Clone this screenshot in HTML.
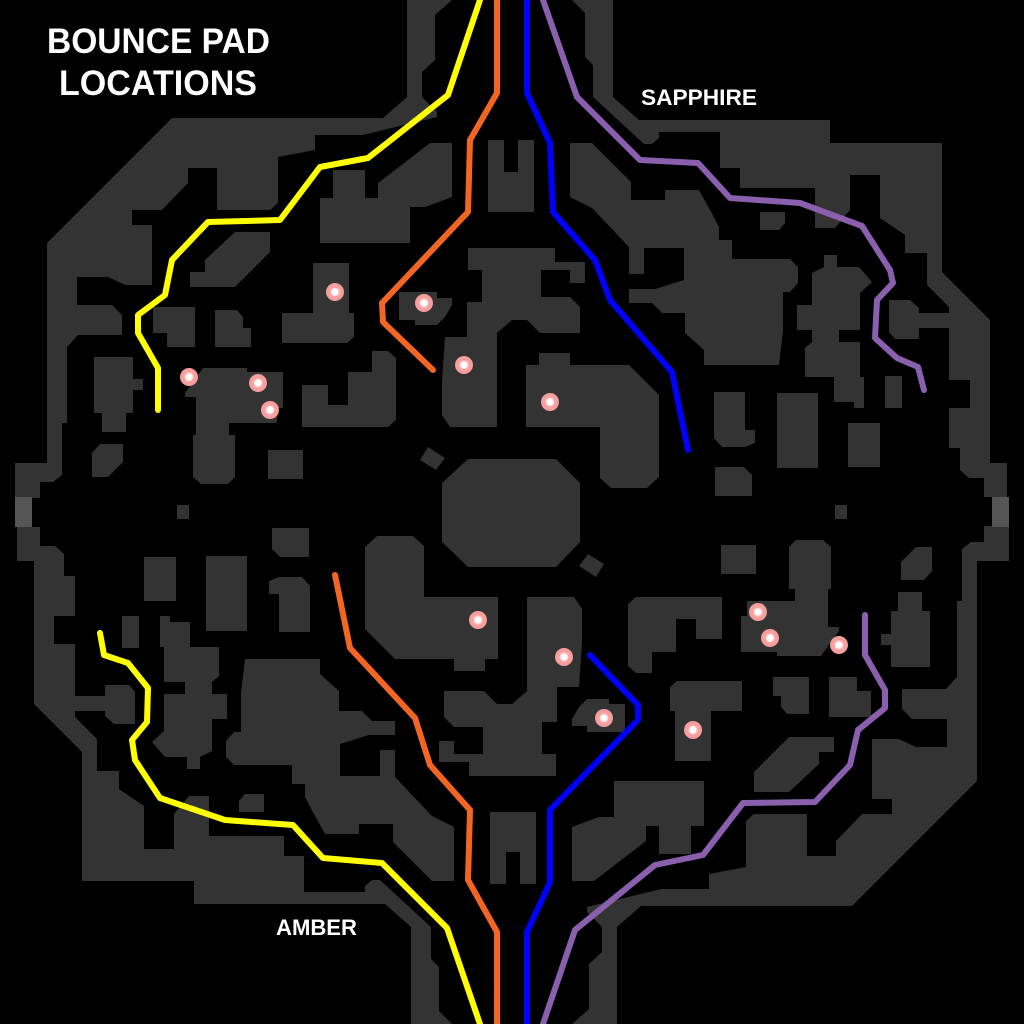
<!DOCTYPE html>
<html><head><meta charset="utf-8"><style>html,body{margin:0;padding:0;background:#000}svg{display:block}</style></head>
<body>
<svg width="1024" height="1024" viewBox="0 0 1024 1024" xmlns="http://www.w3.org/2000/svg">
<defs>
<radialGradient id="dg"><stop offset="0" stop-color="#fff"/><stop offset="0.3" stop-color="#fff"/><stop offset="0.55" stop-color="#f7a3a3"/><stop offset="1" stop-color="#f59a9a"/></radialGradient>
<g id="half" fill="#333333">
<polygon points="172,118 383,118 407,97 407,0 452,0 435,15 435,60 422,72 422,97 437,112 437,117 363,135 315,135 315,150 278,157 278,203 270,210 217,210 217,168 188,168 188,183 162,210 132,210 132,225 152,225 152,285 125,285 108,277 77,277 77,305 112,305 122,315 122,335 78,335 67,347 67,423 62,423 62,475 53,482 40,482 40,498 15,498 15,463 47,463 47,243"/>
<polygon points="235,232 270,232 270,252 235,287 190,287 190,272 205,272 205,260"/>
<polygon points="333,170 365,170 365,198 378,198 378,183 430,143 452,143 452,197 425,207 410,207 410,243 320,243 320,198 333,198"/>
<polygon points="488,140 504,140 504,172 518,172 518,140 534,140 534,212 488,212"/>
<polygon points="313,263 349,263 349,313 354,313 354,337 347,343 282,343 282,313 313,313"/>
<polygon points="153,307 195,307 195,347 167,347 167,333 153,333"/>
<polygon points="215,310 237,310 243,317 243,328 251,328 251,347 215,347"/>
<polygon points="94,357 133,357 133,379 143,379 143,390 133,390 133,413 126,413 126,432 102,432 102,413 94,413"/>
<polygon points="100,444 123,444 123,462 108,477 92,477 92,453"/>
<polygon points="203,368 247,368 247,372 283,372 283,408 277,408 277,423 229,423 229,435 235,435 235,477 228,484 201,484 193,477 193,435 196,435 196,397 185,397 185,393"/>
<rect x="268" y="450" width="35" height="29"/>
<polygon points="302,385 328,385 328,405 348,405 348,372 372,372 372,351 388,351 396,358 396,420 388,427 302,427"/>
<polygon points="399,292 437,292 437,298 452,298 452,305 445,317 437,325 415,325 415,320 399,320"/>
<polygon points="468,248 555,248 555,262 585,262 585,283 570,283 570,270 541,270 541,297 570,297 580,307 580,333 540,333 527,320 512,320 497,333 497,427 450,427 442,415 442,382 445,337 467,337 467,302 482,302 482,270 468,270"/>
<polygon points="428,447 445,458 436,470 420,460"/>
<rect x="177" y="505" width="11" height="14"/>
<polygon points="572,0 613,0 613,97 639,120 830,120 830,143 942,143 942,272 990,320 990,463 1007,463 1007,497 984,497 984,478 969,478 960,470 960,448 949,448 949,408 970,408 970,380 949,380 949,328 919,328 919,313 949,313 949,307 927,285 927,253 905,253 905,235 880,218 880,175 850,175 850,210 835,228 815,228 815,188 740,188 740,168 720,168 720,132 659,132 659,138 652,144 644,144 593,97 593,65 585,57 585,13"/>
<polygon points="570,143 592,143 631,182 631,200 665,200 665,190 699,190 709,208 719,227 719,240 732,240 732,259 790,259 798,267 798,283 790,292 783,292 783,330 779,365 704,365 704,350 685,333 685,313 662,313 652,303 629,303 629,289 655,289 684,280 684,248 644,248 644,274 629,274 629,247 592,208 570,197"/>
<polygon points="760,212 785,212 785,223 779,230 760,230"/>
<polygon points="824,255 837,255 837,267 859,267 872,282 860,293 860,330 839,330 839,342 860,342 860,377 864,377 864,408 854,408 854,402 834,402 834,377 805,377 805,348 812,342 812,330 797,330 797,305 812,305 812,273 824,267"/>
<polygon points="889,300 910,300 919,308 919,339 895,339 889,332"/>
<rect x="885" y="376" width="17" height="32"/>
<polygon points="714,392 745,392 745,430 755,430 755,443 745,447 722,447 714,438"/>
<rect x="777" y="393" width="41" height="75"/>
<rect x="848" y="423" width="32" height="44"/>
<polygon points="715,467 744,467 752,475 752,496 715,496"/>
<rect x="835" y="505" width="11" height="14"/>
<polygon points="539,353 570,353 570,365 629,365 659,395 659,477 647,488 611,488 600,478 600,427 526,427 526,365 539,365"/>
<rect x="15" y="497" width="17" height="30" fill="#555"/>
</g>
</defs>
<rect width="1024" height="1024" fill="#000"/>
<use href="#half"/>
<use href="#half" transform="rotate(180 512 512)"/>
<polygon points="468,459 556,459 580,483 580,542 556,567 468,567 442,542 442,483" fill="#333"/>
<g fill="none" stroke-width="6" stroke-linecap="round" stroke-linejoin="round">
<polyline stroke="#ffff00" points="480,0 448,95 368,158 320,167 280,220 208,222 172,260 165,295 138,315 138,333 158,368 158,410"/>
<polyline stroke="#f26522" points="497,0 497,93 470,140 468,212 382,303 383,322 433,370"/>
<polyline stroke="#0000ff" points="527,0 527,93 550,143 553,212 595,260 610,300 672,372 688,450"/>
<polyline stroke="#8a5fae" points="543,0 577,97 640,160 698,163 730,198 800,203 862,226 890,270 893,283 877,300 875,338 897,358 918,367 924,390"/>
<polyline stroke="#ffff00" points="100,633 104,655 128,663 148,688 147,722 132,740 135,760 160,798 225,820 293,825 323,858 382,863 447,928 480,1024"/>
<polyline stroke="#f26522" points="335,575 350,648 415,718 430,765 470,810 468,880 497,932 497,1024"/>
<polyline stroke="#0000ff" points="590,655 638,705 638,720 550,810 550,882 527,932 527,1024"/>
<polyline stroke="#8a5fae" points="865,615 865,655 885,690 885,708 858,730 850,765 815,802 743,803 703,855 655,865 575,930 543,1024"/>
</g>
<g fill="url(#dg)">
<circle cx="335" cy="292" r="9"/><circle cx="424" cy="303" r="9"/><circle cx="464" cy="365" r="9"/><circle cx="550" cy="402" r="9"/>
<circle cx="189" cy="377" r="9"/><circle cx="258" cy="383" r="9"/><circle cx="270" cy="410" r="9"/>
<circle cx="478" cy="620" r="9"/><circle cx="564" cy="657" r="9"/><circle cx="604" cy="718" r="9"/><circle cx="693" cy="730" r="9"/>
<circle cx="758" cy="612" r="9"/><circle cx="770" cy="638" r="9"/><circle cx="839" cy="645" r="9"/>
</g>
<g fill="#fff" font-family="Liberation Sans, sans-serif" font-weight="bold">
<text x="47" y="53" font-size="35" textLength="223" lengthAdjust="spacingAndGlyphs">BOUNCE PAD</text>
<text x="59" y="95" font-size="35" textLength="198" lengthAdjust="spacingAndGlyphs">LOCATIONS</text>
<text x="641" y="105" font-size="22" textLength="116" lengthAdjust="spacingAndGlyphs">SAPPHIRE</text>
<text x="276" y="935" font-size="22" textLength="81" lengthAdjust="spacingAndGlyphs">AMBER</text>
</g>
</svg>
</body></html>
